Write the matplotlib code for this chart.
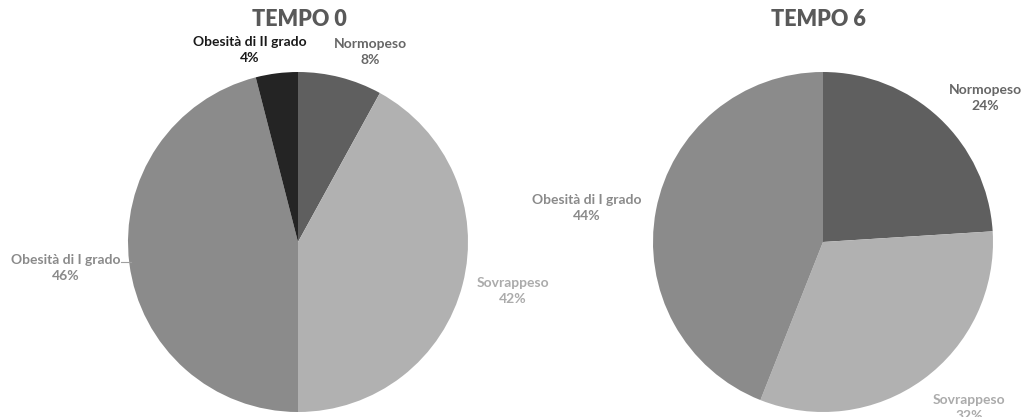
import matplotlib.pyplot as plt

# Dati: distribuzione BMI al tempo 0 e al tempo 6
cat_t0 = ["Normopeso", "Sovrappeso", "Obesità di I grado", "Obesità di II grado"]
val_t0 = [8, 42, 46, 4]
cat_t6 = ["Normopeso", "Sovrappeso", "Obesità di I grado"]
val_t6 = [24, 32, 44]

colori = {"Normopeso": "#5f5f5f", "Sovrappeso": "#b1b1b1",
          "Obesità di I grado": "#8b8b8b", "Obesità di II grado": "#242424"}
col_testo = {"Normopeso": "#666666", "Sovrappeso": "#ababab",
             "Obesità di I grado": "#8a8a8a", "Obesità di II grado": "#1a1a1a"}

W, H = 1028, 417
fig = plt.figure(figsize=(W / 100, H / 100), dpi=100)
ax = fig.add_axes([0, 0, 1, 1])
plt.rcParams['font.family'] = ['Lato', 'DejaVu Sans']

R = 170
# posizione etichette (pixel, y dall'alto)
pos_t0 = {"Normopeso": (370, 52), "Sovrappeso": (513, 291),
          "Obesità di I grado": (66, 268), "Obesità di II grado": (250, 50)}
pos_t6 = {"Normopeso": (985, 98), "Sovrappeso": (969, 408),
          "Obesità di I grado": (587, 208)}

grafici = [("TEMPO 0", cat_t0, val_t0, (298, 242), pos_t0, 299),
           ("TEMPO 6", cat_t6, val_t6, (823, 242), pos_t6, 818)]

for titolo, cat, val, (cx, cy), pos, tx in grafici:
    ax.pie(val, colors=[colori[c] for c in cat], startangle=90, counterclock=False,
           center=(cx, H - cy), radius=R, wedgeprops=dict(linewidth=0))
    tot = sum(val)
    for c, v in zip(cat, val):
        px, py = pos[c]
        ax.text(px, H - py, f"{c}\n{round(100 * v / tot)}%", ha='center', va='center',
                fontsize=10, fontweight='bold', color=col_testo[c], linespacing=1.35)
    ax.text(tx, H - 19, titolo, ha='center', va='center', fontsize=15.5,
            fontweight='heavy', color='#595959')

# linea guida etichetta Obesità di I grado
ax.plot([121, 131], [H - 262, H - 262], color='#a0a0a0', lw=0.8)

ax.set_xlim(0, W)
ax.set_ylim(0, H)
ax.set_aspect('equal')
ax.axis('off')
fig.savefig("out.png", dpi=100)
